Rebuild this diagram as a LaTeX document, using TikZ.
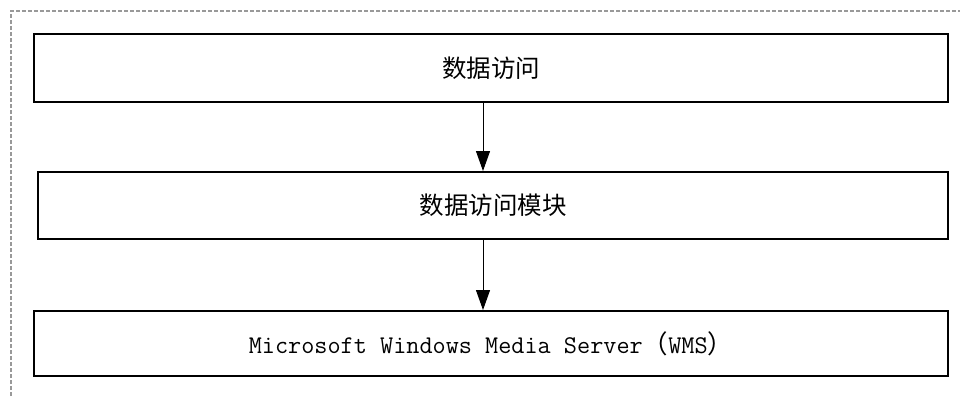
\documentclass[tikz,border=0pt]{standalone}
\usepackage{fontspec}
\newfontfamily\cjk{Noto Sans CJK SC}
\usetikzlibrary{arrows.meta,positioning}

\begin{document}
\begin{tikzpicture}[x=1pt, y=-1pt,
  every node/.style={font=\fontsize{24.5}{28}\selectfont},
  layerbox/.style={draw, line width=2pt, inner sep=0pt, minimum width=914pt},
  >={Triangle[length=20pt,width=14pt]}]
\useasboundingbox (0,0) rectangle (960,396);
% dashed frame
\coordinate (frame) at (11,11);
\draw[gray!80, line width=1.1pt, dash pattern=on 4pt off 2pt]
  (frame |- 0,396) -- (frame) -- (960,11);
% layers
\node[layerbox, minimum height=68pt] (access) at (491,68) {\cjk 数据访问};
\node[layerbox, minimum width=910pt, minimum height=67pt] (module) at (493,205.5) {\cjk 数据访问模块};
\node[layerbox, minimum height=65pt] (wms) at (491,343.5)
  {\fontsize{25.5}{28}\selectfont\ttfamily Microsoft Windows Media Server{\cjk （}WMS{\cjk ）}};
% connectors
\coordinate (axis) at (483,0);
\draw[->, line width=1pt] (access.south -| axis) -- (module.north -| axis);
\draw[->, line width=1pt] (module.south -| axis) -- (wms.north -| axis);
\end{tikzpicture}
\end{document}
